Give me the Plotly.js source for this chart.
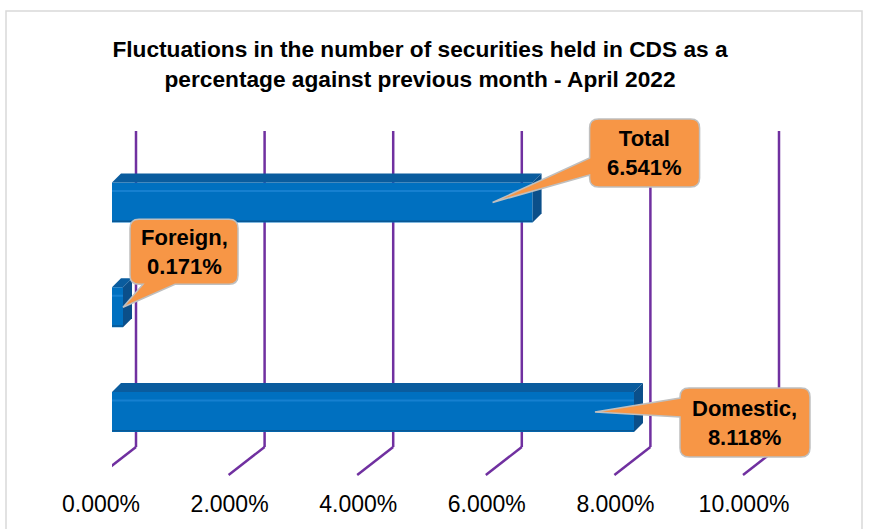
<!DOCTYPE html>
<html>
<head>
<meta charset="utf-8">
<script src="https://cdn.plot.ly/plotly-3.0.1.min.js"></script>
<style>html,body{margin:0;padding:0;background:#fff;}#chart{width:870px;height:529px;}</style>
</head>
<body>
<div id="chart"></div>
<script>
// ---- data ----
var categories = ['Domestic', 'Foreign', 'Total'];
var values = [8.118, 0.171, 6.541];
var labelNames = ['Domestic,', 'Foreign,', 'Total'];
var tickValues = [0, 2, 4, 6, 8, 10];
var tickLabels = ['0.000%', '2.000%', '4.000%', '6.000%', '8.000%', '10.000%'];
var titleText = 'Fluctuations in the number of securities held in CDS as a<br>percentage against previous month - April 2022';

// ---- layout constants (style) ----
var W = 870, H = 529;
var xPx0 = 112, xPx1 = 755;          // pixel positions of x = 0 and x = 10
var yTopPx = 150.1, yBotPx = 464.4;  // pixel positions of y = 2.5 and y = -0.5
var pxPerX = (xPx1 - xPx0) / 10;
var pxPerY = (yBotPx - yTopPx) / 3;
var xMax = (W - xPx0) / pxPerX;      // extend plot area to the right edge (no clipping of callouts)
var yMax = 2.5 + yTopPx / pxPerY;    // extend plot area to the top edge
var barWidth = 0.38;
var depthX = 9, depthY = 9;          // 3D depth of the bars in px
var gridBack = 24, gridFront = -12;  // px offsets of the back plane / front edge
var gridTopPx = 131, gridBotPx = 447, gridFrontPx = 475;
var purple = '#7030A0';
var fontFam = 'Liberation Sans, Arial, sans-serif';

var yIdx = categories.map(function (c, i) { return i; });

var shapes = [];
// chart border
shapes.push({type: 'rect', xref: 'paper', yref: 'paper', x0: 6 / W, x1: 862 / W, y0: -0.2, y1: (H - 11) / H,
  line: {color: '#D9D9D9', width: 1.5}, fillcolor: 'rgba(0,0,0,0)', layer: 'below'});

// grid lines on back plane + diagonal floor lines
tickValues.forEach(function (t) {
  shapes.push({type: 'line', xref: 'x', yref: 'paper', xsizemode: 'pixel', xanchor: t,
    x0: gridBack, x1: gridBack, y0: (H - gridBotPx) / H, y1: (H - gridTopPx) / H,
    line: {color: purple, width: 2.5}, layer: 'below'});
  shapes.push({type: 'line', xref: 'x', yref: 'paper', xsizemode: 'pixel', xanchor: t,
    x0: gridBack, x1: gridFront, y0: (H - gridBotPx) / H, y1: (H - gridFrontPx) / H,
    line: {color: purple, width: 2.5}, layer: 'below'});
});

// 3D faces of the bars
var dx = depthX / pxPerX, dy = depthY / pxPerY;
values.forEach(function (v, i) {
  var yt = yIdx[i] + barWidth / 2, yb = yIdx[i] - barWidth / 2;
  // soft shadow on the left
  shapes.push({type: 'rect', xref: 'x', yref: 'y', xsizemode: 'pixel', xanchor: 0, x0: -9, x1: 0,
    y0: yb - 0.05, y1: yt + dy + 0.08, fillcolor: 'rgba(0,0,0,0.07)', line: {width: 0}, layer: 'below'});
  shapes.push({type: 'rect', xref: 'x', yref: 'y', xsizemode: 'pixel', xanchor: 0, x0: -6, x1: 0,
    y0: yb - 0.03, y1: yt + dy + 0.05, fillcolor: 'rgba(0,0,0,0.12)', line: {width: 0}, layer: 'below'});
  shapes.push({type: 'rect', xref: 'x', yref: 'y', xsizemode: 'pixel', xanchor: 0, x0: -3, x1: 0,
    y0: yb - 0.01, y1: yt + dy + 0.02, fillcolor: 'rgba(0,0,0,0.18)', line: {width: 0}, layer: 'below'});
  // top face
  shapes.push({type: 'path', xref: 'x', yref: 'y',
    path: 'M0,' + yt + ' L' + v + ',' + yt + ' L' + (v + dx) + ',' + (yt + dy) + ' L' + dx + ',' + (yt + dy) + ' Z',
    fillcolor: '#0A5C9E', line: {width: 0}, layer: 'above'});
  // right side face
  shapes.push({type: 'path', xref: 'x', yref: 'y',
    path: 'M' + v + ',' + yt + ' L' + (v + dx) + ',' + (yt + dy) + ' L' + (v + dx) + ',' + (yb + dy) + ' L' + v + ',' + yb + ' Z',
    fillcolor: '#0B4F8A', line: {width: 0}, layer: 'above'});
  // light stripe on front face
  shapes.push({type: 'line', xref: 'x', yref: 'y', x0: 0, x1: v, y0: yt - 0.08, y1: yt - 0.08,
    line: {color: '#1680D0', width: 2}, layer: 'above'});
  // dark bottom edge
  shapes.push({type: 'line', xref: 'x', yref: 'y', x0: 0, x1: v, y0: yb + 0.01, y1: yb + 0.01,
    line: {color: '#0A5894', width: 1.5}, layer: 'above'});
});

// callouts (box + wedge) in pixel offsets from (value, category)
var callouts = [
  {L: 46, R: 176, T: 24, B: -45, tip: [-39, 0], side: 'left', a: [-5, 14]},   // Domestic
  {L: 7, R: 115, T: 88, B: 23, tip: [0, 0], side: 'bottom', a: [20, 52]},     // Foreign
  {L: 57, R: 167, T: 83.5, B: 15.5, tip: [-40, 0], side: 'left', a: [27.5, 44.5]} // Total
];
function calloutPath(c) {
  var r = 9, p = [];
  p.push('M' + (c.L + r) + ',' + c.T);
  p.push('L' + (c.R - r) + ',' + c.T);
  p.push('Q' + c.R + ',' + c.T + ' ' + c.R + ',' + (c.T - r));
  p.push('L' + c.R + ',' + (c.B + r));
  p.push('Q' + c.R + ',' + c.B + ' ' + (c.R - r) + ',' + c.B);
  if (c.side === 'bottom') {
    p.push('L' + c.a[1] + ',' + c.B);
    p.push('L' + c.tip[0] + ',' + c.tip[1]);
    p.push('L' + c.a[0] + ',' + c.B);
  }
  p.push('L' + (c.L + r) + ',' + c.B);
  p.push('Q' + c.L + ',' + c.B + ' ' + c.L + ',' + (c.B + r));
  if (c.side === 'left') {
    p.push('L' + c.L + ',' + c.a[0]);
    p.push('L' + c.tip[0] + ',' + c.tip[1]);
    p.push('L' + c.L + ',' + c.a[1]);
  }
  p.push('L' + c.L + ',' + (c.T - r));
  p.push('Q' + c.L + ',' + c.T + ' ' + (c.L + r) + ',' + c.T);
  p.push('Z');
  return p.join(' ');
}
var annotations = [];
values.forEach(function (v, i) {
  var c = callouts[i];
  shapes.push({type: 'path', xref: 'x', yref: 'y', xsizemode: 'pixel', ysizemode: 'pixel',
    xanchor: v, yanchor: yIdx[i], path: calloutPath(c),
    fillcolor: '#F79646', line: {color: '#BFBFBF', width: 1.5}, layer: 'above'});
  annotations.push({x: v, y: yIdx[i], xref: 'x', yref: 'y', showarrow: false,
    xshift: (c.L + c.R) / 2, yshift: (c.T + c.B) / 2,
    text: '<b>' + labelNames[i] + '<br>' + v.toFixed(3) + '%</b>',
    font: {family: fontFam, size: 22, color: '#000000'},
    align: 'center', xanchor: 'center', yanchor: 'middle'});
});

var trace = {
  type: 'bar', orientation: 'h',
  x: values, y: yIdx, width: barWidth,
  text: categories, hoverinfo: 'text+x', textposition: 'none',
  marker: {color: '#0070C0', line: {width: 0}}
};

var layout = {
  width: W, height: H,
  margin: {l: 0, r: 0, t: 0, b: 0},
  paper_bgcolor: '#ffffff', plot_bgcolor: 'rgba(0,0,0,0)',
  showlegend: false,
  title: {text: '<b>' + titleText + '</b>', x: 420 / W, xanchor: 'center', y: 1 - 57 / H, yanchor: 'middle',
    font: {family: fontFam, size: 22.7, color: '#000000'}},
  xaxis: {domain: [xPx0 / W, 1], range: [0, xMax], showgrid: false, zeroline: false, showline: false,
    tickmode: 'array', tickvals: tickValues, ticktext: tickLabels, ticks: '',
    ticklabelshift: -11, ticklabelstandoff: 24, fixedrange: true,
    tickfont: {family: fontFam, size: 23, color: '#000000'}},
  yaxis: {domain: [(H - yBotPx) / H, 1], range: [-0.5, yMax], visible: false, fixedrange: true},
  shapes: shapes,
  annotations: annotations
};

Plotly.newPlot('chart', [trace], layout, {displayModeBar: false, staticPlot: true});
</script>
</body>
</html>
